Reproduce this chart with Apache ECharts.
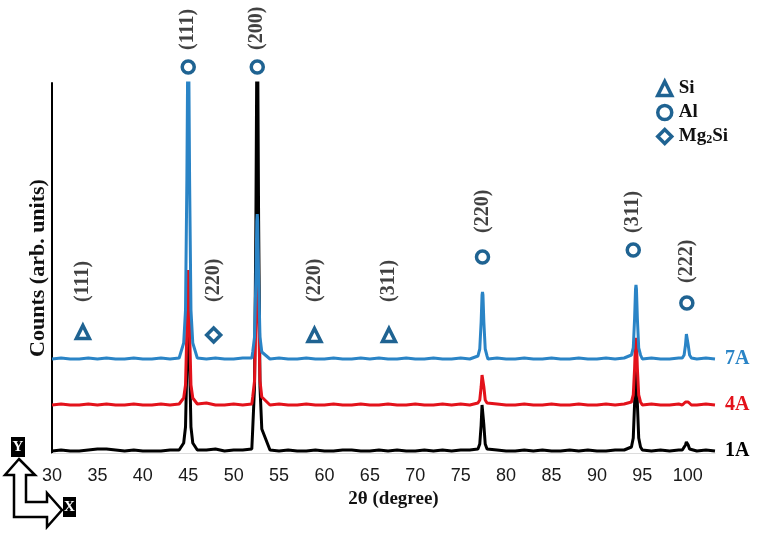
<!DOCTYPE html>
<html>
<head>
<meta charset="utf-8">
<script src="https://cdn.jsdelivr.net/npm/echarts@6/dist/echarts.min.js"></script>
<style>
  html, body { margin: 0; padding: 0; background: #fff; }
  #main { width: 757px; height: 533px; }
</style>
</head>
<body>
<div id="main"></div>
<script>
// 2theta grid (degrees), denser around the reflections
const twoTheta = [
  30, 31, 32, 33, 34, 35, 36, 37, 38, 39, 40, 41, 42, 43, 44,
  44.5, 44.7, 44.85, 44.95, 45, 45.05, 45.15, 45.3, 45.5,
  46, 47, 48, 49, 50, 51, 52,
  52.1, 52.3, 52.45, 52.55, 52.6, 52.65, 52.75, 52.9, 53.1,
  54, 55, 56, 57, 58, 59, 60, 61, 62, 63, 64, 65, 66, 67, 68, 69, 70, 71, 72, 73, 74, 75, 76,
  76.9, 77.1, 77.25, 77.35, 77.4, 77.45, 77.55, 77.7, 77.9,
  78, 79, 80, 81, 82, 83, 84, 85, 86, 87, 88, 89, 90, 91, 92, 93,
  93.8, 94, 94.15, 94.25, 94.3, 94.35, 94.45, 94.6, 94.8,
  95, 96, 97, 98, 99,
  99.4, 99.6, 99.75, 99.85, 99.9, 99.95, 100.05, 100.2, 100.4,
  101, 102, 103
];

// counts (arb. units), curves already stacked as in the figure
const counts1A = [
  2, 3, 2, 2, 3, 4, 4, 3, 2, 3, 2, 2, 2, 3, 3,
  10, 26, 89, 152, 160, 152, 89, 26, 10,
  3, 3, 4, 2, 3, 3, 4,
  24, 66, 232, 399, 420, 399, 232, 66, 24,
  3, 2, 3, 2, 2, 3, 2, 2, 3, 3, 2, 2, 3, 2, 3, 2, 2, 3, 2, 3, 2, 3, 3,
  4, 9, 28, 48, 50, 48, 28, 9, 4,
  2, 3, 2, 2, 3, 2, 3, 2, 2, 3, 2, 3, 2, 2, 3, 3,
  6, 15, 50, 85, 89, 85, 50, 15, 6,
  3, 2, 3, 2, 3,
  3, 4, 8, 11, 12, 11, 8, 4, 3,
  2, 3, 2
];
const counts4A = [
  48, 49, 48, 48, 49, 48, 49, 48, 48, 49, 48, 48, 49, 48, 49,
  55, 68, 122, 176, 183, 176, 122, 68, 55,
  49, 50, 48, 48, 49, 48, 49,
  56, 72, 137, 202, 210, 202, 137, 72, 56,
  48, 49, 48, 48, 49, 48, 48, 49, 48, 48, 49, 48, 48, 49, 48, 48, 49, 48, 48, 49, 48, 49, 48,
  50, 53, 66, 78, 80, 78, 66, 53, 50,
  48, 49, 48, 48, 49, 48, 48, 49, 48, 48, 49, 48, 48, 49, 48, 49,
  51, 58, 85, 112, 115, 112, 85, 58, 51,
  48, 49, 48, 48, 49,
  48, 49, 51, 52, 52, 52, 51, 49, 48,
  48, 49, 48
];
const counts7A = [
  94, 95, 94, 94, 95, 94, 95, 94, 94, 95, 94, 94, 95, 94, 95,
  110, 143, 273, 404, 420, 404, 273, 143, 110,
  95, 94, 95, 94, 94, 95, 95,
  101, 116, 174, 232, 239, 232, 174, 116, 101,
  94, 95, 94, 94, 95, 94, 94, 95, 94, 94, 95, 94, 95, 94, 94, 95, 94, 94, 95, 94, 94, 95, 94,
  97, 104, 131, 158, 161, 158, 131, 104, 97,
  94, 95, 94, 94, 95, 94, 94, 95, 94, 94, 95, 94, 94, 95, 94, 95,
  98, 105, 135, 164, 168, 164, 135, 105, 98,
  94, 95, 94, 94, 95,
  95, 98, 108, 119, 120, 119, 108, 98, 95,
  94, 95, 94
];

// reflection markers
const peakPos = [33.4, 45.0, 47.8, 52.6, 58.9, 67.1, 77.4, 94.0, 99.9];
const peakHkl = ['(111)', '(111)', '(220)', '(200)', '(220)', '(311)', '(220)', '(311)', '(222)'];
const peakPhase = ['Si', 'Al', 'Mg2Si', 'Al', 'Si', 'Si', 'Al', 'Al', 'Al'];
const markerLevel = [121, 386, 118, 386, 118, 118, 196, 203, 150];
const labelLevel = [151, 403, 151, 403, 151, 151, 220, 220, 170];

const phases = ['Si', 'Al', 'Mg2Si'];
const phaseSymbol = { 'Si': 'triangle', 'Al': 'circle', 'Mg2Si': 'diamond' };
const phaseSize = { 'Si': 13, 'Al': 12, 'Mg2Si': 14 };

const serif = "'Liberation Serif', 'Times New Roman', serif";
const markColor = '#1f6392';

var myChart = echarts.init(document.getElementById('main'));

function pairs(ys) {
  return twoTheta.map((x, i) => [x, ys[i]]);
}

var lineSeries = [
  { name: '1A', data: counts1A, color: '#000000' },
  { name: '4A', data: counts4A, color: '#e3121b' },
  { name: '7A', data: counts7A, color: '#2a84c6' }
].map(s => ({
  name: s.name,
  type: 'line',
  data: pairs(s.data),
  showSymbol: false,
  lineStyle: { color: s.color, width: 3 },
  itemStyle: { color: s.color },
  endLabel: {
    show: true,
    formatter: '{a}',
    color: s.color,
    fontFamily: serif,
    fontWeight: 'bold',
    fontSize: 20,
    distance: 10
  }
}));

var markerSeries = phases.map(ph => ({
  name: ph,
  type: 'scatter',
  clip: false,
  symbol: phaseSymbol[ph],
  symbolSize: phaseSize[ph],
  itemStyle: { color: '#fff', borderColor: markColor, borderWidth: 3.5, opacity: 1 },
  data: peakPos.map((x, i) => peakPhase[i] === ph ? [x, markerLevel[i]] : null).filter(d => d)
}));

var hklSeries = {
  name: 'hkl',
  type: 'scatter',
  clip: false,
  symbolSize: 1,
  itemStyle: { color: 'rgba(0,0,0,0)' },
  label: {
    show: true,
    position: 'inside',
    rotate: 90,
    align: 'left',
    verticalAlign: 'middle',
    fontFamily: serif,
    fontWeight: 'bold',
    fontSize: 20,
    color: '#111',
    formatter: p => peakHkl[p.dataIndex]
  },
  data: peakPos.map((x, i) => [x, labelLevel[i]])
};

var option = {
  animation: false,
  backgroundColor: '#fff',
  grid: { left: 52, right: 42, top: 83, bottom: 80 },
  legend: {
    data: phases,
    orient: 'vertical',
    left: 651,
    top: 74,
    itemWidth: 14,
    itemHeight: 14,
    itemGap: 5,
    itemStyle: { color: '#fff', borderColor: markColor, borderWidth: 3.5 },
    formatter: name => name === 'Mg2Si' ? '{n|Mg}{s|2}{n|Si}' : '{n|' + name + '}',
    textStyle: {
      padding: [0, 0, 0, 2],
      rich: {
        n: { fontFamily: serif, fontWeight: 'bold', fontSize: 19, color: '#111' },
        s: { fontFamily: serif, fontWeight: 'bold', fontSize: 12, color: '#111', verticalAlign: 'bottom', padding: [6, 0, 0, 0] }
      }
    }
  },
  xAxis: {
    type: 'value',
    min: 30,
    max: 103,
    interval: 5,
    name: '2θ (degree)',
    nameLocation: 'middle',
    nameGap: 26,
    nameTextStyle: { fontFamily: serif, fontWeight: 'bold', fontSize: 19, color: '#111', padding: [0, 0, 0, 20] },
    axisLine: { show: true, lineStyle: { color: '#dcdcdc', width: 1 } },
    axisTick: { show: false },
    splitLine: { show: false },
    axisLabel: {
      showMaxLabel: false,
      margin: 14,
      fontFamily: "'Liberation Sans', Arial, sans-serif",
      fontSize: 18,
      color: '#1a1a1a',
      formatter: v => (v % 5 === 0 ? String(v) : '')
    }
  },
  yAxis: {
    type: 'value',
    min: 0,
    max: 370,
    name: 'Counts (arb. units)',
    nameLocation: 'middle',
    nameGap: 3,
    nameTextStyle: { fontFamily: serif, fontWeight: 'bold', fontSize: 22, color: '#111' },
    axisLine: { show: true, lineStyle: { color: '#000', width: 2 } },
    axisTick: { show: false },
    axisLabel: { show: false },
    splitLine: { show: false }
  },
  graphic: [
    {
      type: 'polygon',
      shape: { points: [[19, 459], [35, 475], [26, 475], [26, 502], [47, 502], [47, 493], [62, 510], [47, 527], [47, 517], [14, 517], [14, 475], [5, 475]] },
      style: { fill: '#fff', stroke: '#000', lineWidth: 2.5 }
    },
    { type: 'rect', shape: { x: 11, y: 437, width: 14, height: 20 }, style: { fill: '#000' } },
    { type: 'text', style: { text: 'Y', x: 18, y: 447, fill: '#fff', font: 'bold 15px ' + serif, align: 'center', verticalAlign: 'middle' } },
    { type: 'rect', shape: { x: 63, y: 497, width: 13, height: 20 }, style: { fill: '#000' } },
    { type: 'text', style: { text: 'X', x: 69.5, y: 507, fill: '#fff', font: 'bold 15px ' + serif, align: 'center', verticalAlign: 'middle' } }
  ],
  series: lineSeries.concat(markerSeries, [hklSeries])
};

myChart.setOption(option);
</script>
</body>
</html>
